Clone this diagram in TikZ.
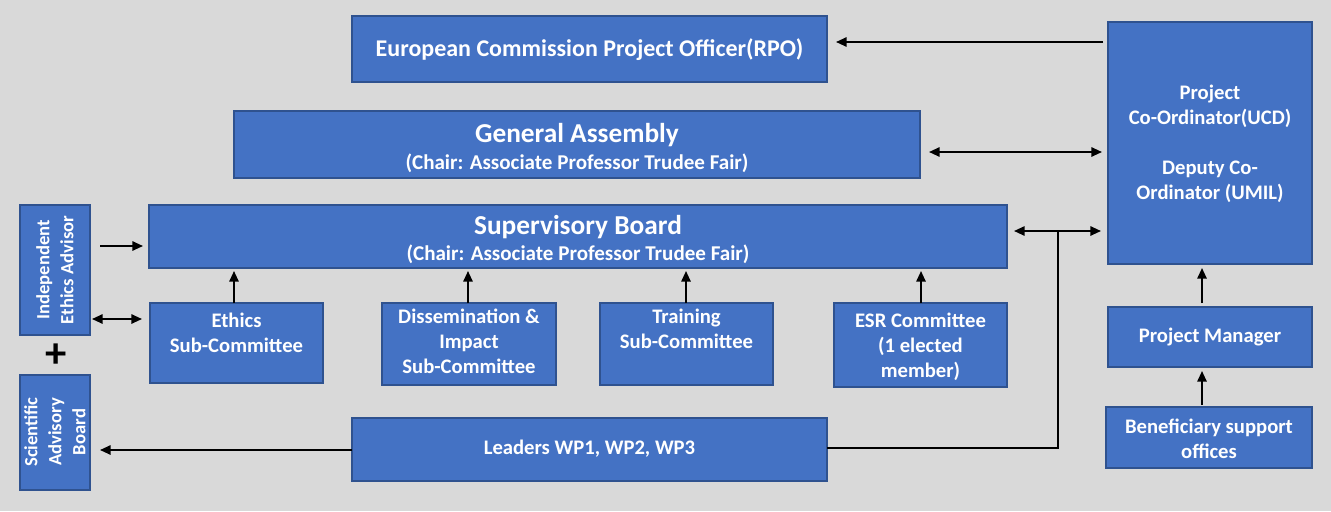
\documentclass[tikz,border=0pt]{standalone}
\usepackage{fontspec}
\setmainfont{Carlito}
\usetikzlibrary{arrows.meta}
\definecolor{bg}{HTML}{D9D9D9}
\definecolor{boxfill}{HTML}{4472C4}
\definecolor{boxline}{HTML}{2F528F}
\tikzset{
  blk/.style={draw=boxline, line width=1.3pt, fill=boxfill},
  txt/.style={text=white, font=\bfseries\fontsize{15.5}{18.75}\selectfont, align=center, inner sep=0pt},
  conn/.style={line width=1.4pt, -{Triangle[length=8pt,width=7pt]}},
  bconn/.style={line width=1.4pt, {Triangle[length=8pt,width=7pt]}-{Triangle[length=8pt,width=7pt]}},
  plain/.style={line width=1.4pt},
}
\begin{document}
\begin{tikzpicture}[x=0.75pt,y=-0.75pt]
\fill[bg] (0,0) rectangle (1331,511);
\useasboundingbox (0,0) rectangle (1331,511);
% boxes
\draw[blk] (352,16) rectangle (827,82);
\node[txt, font=\bfseries\fontsize{18}{22}\selectfont] (rpo) at (589.5,50) {European Commission Project Officer(RPO)};
\draw[blk] (234,111) rectangle (920,178);
\node[txt] (ga) at (577,148) {{\fontsize{20.5}{24}\selectfont General Assembly}\\[1pt]{\fontsize{15.8}{18}\selectfont (Chair: Associate Professor Trudee Fair)}};
\draw[blk] (149,205) rectangle (1007,268);
\node[txt] (sb) at (578,239.5) {{\fontsize{20.5}{24}\selectfont Supervisory Board}\\[1pt]{\fontsize{15.8}{18}\selectfont (Chair: Associate Professor Trudee Fair)}};
\draw[blk] (150,303) rectangle (323,383);
\node[txt] (eth) at (236.5,333) {Ethics\\Sub-Committee};
\draw[blk] (382,303) rectangle (556,385);
\node[txt] (dis) at (469,341) {Dissemination \&\\Impact\\Sub-Committee};
\draw[blk] (600,303) rectangle (773,385);
\node[txt] (tr) at (686.5,329) {Training\\Sub-Committee};
\draw[blk] (834,303) rectangle (1007,387);
\node[txt] (esr) at (920.5,347) {ESR Committee\\(1 elected\\member)};
\draw[blk] (352,418) rectangle (827,481);
\node[txt] (lead) at (589.5,449) {Leaders WP1, WP2, WP3};
\draw[blk] (20,205) rectangle (90,335);
\node[txt, rotate=90, font=\bfseries\fontsize{14}{18}\selectfont] (iea) at (55,270) {Independent\\Ethics Advisor};
\draw[blk] (20,375) rectangle (90,490);
\node[txt, rotate=90, font=\bfseries\fontsize{14}{18}\selectfont] (sab) at (55,432) {Scientific\\Advisory\\Board};
\node[txt, text=black, font=\bfseries\fontsize{32}{32}\selectfont] (plus) at (56,356) {+};
\draw[blk] (1108,22) rectangle (1312,264);
\node[txt] (pc) at (1210,144) {Project\\Co-Ordinator(UCD)\\[18.75pt]Deputy Co-\\Ordinator (UMIL)};
\draw[blk] (1108,307) rectangle (1312,367);
\node[txt] (pm) at (1210,337) {Project Manager};
\draw[blk] (1106,407) rectangle (1312,468);
\node[txt] (ben) at (1209,438.5) {Beneficiary support\\offices};
% connectors
\coordinate (pcA) at (1103,42);
\coordinate (pcB) at (1102,152);
\coordinate (pcC) at (1101,231);
\coordinate (gaE) at (929,152);
\coordinate (sbE) at (1014,231);
\coordinate (rpoE) at (836,42);
\draw[conn] (pcA) -- (rpoE);
\draw[bconn] (gaE) -- (pcB);
\draw[bconn] (sbE) -- (pcC);
\coordinate (leadR) at (827,448);
\coordinate (jn) at (1058,231);
\draw[plain] (leadR) -| (jn);
\coordinate (e1) at (234,303); \coordinate (e1t) at (234,271);
\coordinate (d1) at (468,303); \coordinate (d1t) at (468,271);
\coordinate (t1) at (686,303); \coordinate (t1t) at (686,271);
\coordinate (s1) at (921,303); \coordinate (s1t) at (921,271);
\draw[conn] (e1) -- (e1t);
\draw[conn] (d1) -- (d1t);
\draw[conn] (t1) -- (t1t);
\draw[conn] (s1) -- (s1t);
\coordinate (ia) at (100,246); \coordinate (iat) at (143,246);
\draw[conn] (ia) -- (iat);
\coordinate (ib) at (92,319); \coordinate (ibt) at (142,319);
\draw[bconn] (ib) -- (ibt);
\coordinate (leadL) at (352,450);
\coordinate (sabE) at (100,450);
\draw[conn] (leadL) -- (sabE);
\coordinate (pmT) at (1202,303); \coordinate (pcBot) at (1202,268);
\draw[conn] (pmT) -- (pcBot);
\coordinate (benT) at (1202,405); \coordinate (pmBot) at (1202,371);
\draw[conn] (benT) -- (pmBot);
\end{tikzpicture}
\end{document}
